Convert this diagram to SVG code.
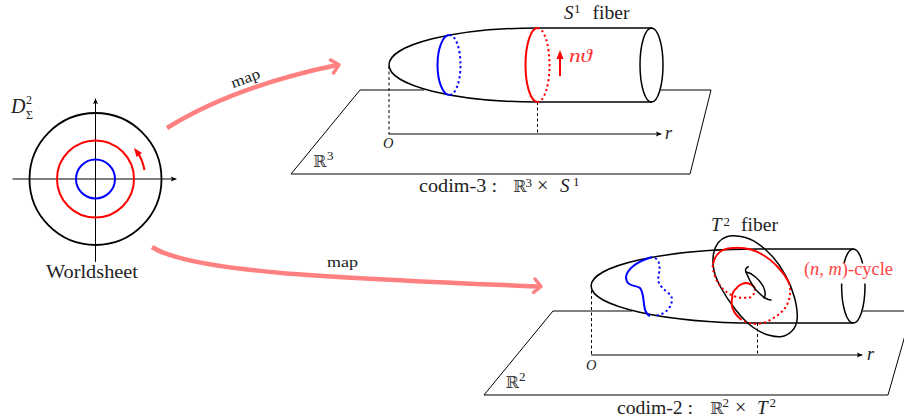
<svg xmlns="http://www.w3.org/2000/svg" width="904" height="418" viewBox="0 0 904 418">
<style>
text{font-family:"Liberation Serif","DejaVu Serif",serif;fill:#222}
.i{font-style:italic}
.l{fill:none;stroke:#000;stroke-linecap:round}
.thin{stroke-width:1}
.m{stroke-width:1.500}
.b{fill:none;stroke:#00f;stroke-width:2}
.r{fill:none;stroke:#f00;stroke-width:2}
.dot{stroke-dasharray:2.2 2.8}
.d{stroke-dasharray:3 2.500;stroke-linecap:butt}
.p{fill:none;stroke:#ff8080;stroke-width:4.500}
.ph{fill:none;stroke:#ff8080;stroke-width:3.500;stroke-linecap:round;stroke-linejoin:round}
.bb{font-family:"DejaVu Serif",serif;fill:#444}
</style>
<defs>
<marker id="ah" markerUnits="userSpaceOnUse" markerWidth="8" markerHeight="8" refX="5" refY="4" orient="auto"><path d="M0 1.500L5.500 4L0 6.500L1 4Z" fill="#000"/></marker>
</defs>
<g id="worldsheet">
<path class="l thin" d="M13 179H176" marker-end="url(#ah)"/>
<path class="l thin" d="M95.500 261.500V99" marker-end="url(#ah)"/>
<circle cx="95.500" cy="179" r="66" fill="none" stroke="#000" stroke-width="1.800"/>
<circle cx="95.500" cy="179" r="38.500" class="r"/>
<circle cx="95.500" cy="179" r="19.500" class="b"/>
<path class="r" d="M144.500 170Q142 158 137 152"/>
<path d="M134 148L142 153L136.500 157Z" fill="#f00"/>
<text x="11" y="113" font-size="20" class="i">D</text>
<text x="26" y="104" font-size="12">2</text>
<text x="26" y="119" font-size="12">Σ</text>
<text x="46" y="278" font-size="19.500" textLength="92" lengthAdjust="spacingAndGlyphs">Worldsheet</text>
</g>
<g id="connectors">
<path class="p" d="M167 128C215 98 275 78 337 65"/>
<path class="ph" d="M330.500 60L339 64.800L333.500 73"/>
<path class="p" d="M152 247C190 272 330 278 539 286.500"/>
<path class="ph" d="M535 279L541 286.500L533.500 292.500"/>
<text x="247" y="83" font-size="15.500" text-anchor="middle" transform="rotate(-20 247 83)" textLength="30" lengthAdjust="spacingAndGlyphs">map</text>
<text x="327" y="266.500" font-size="15.500" textLength="31" lengthAdjust="spacingAndGlyphs">map</text>
</g>
<g id="codim3">
<path class="l thin" d="M661 90H711L690 174H291L360 90H424"/>
<path class="l m" d="M651.500 28H537A148 37 0 0 0 537 102H651.500"/>
<ellipse cx="651.500" cy="65" rx="11.500" ry="37" class="l m" fill="#fff"/>
<path class="l d thin" d="M389 66V134M537.500 102V134"/>
<path class="l thin" d="M389 134H661" marker-end="url(#ah)"/>
<path class="b" d="M449.500 35A12 30 0 0 0 449.500 95"/>
<path class="b dot" d="M449.500 35A11 30 0 0 1 449.500 95"/>
<path class="r" d="M537.500 28A12 37 0 0 0 537.500 102"/>
<path class="r dot" d="M537.500 28A12 37 0 0 1 537.500 102"/>
<path class="r" d="M560 76V56"/>
<path d="M560 50L563.500 59H556.500Z" fill="#f00"/>
<text x="569" y="62" font-size="19" class="i" style="fill:#f33" textLength="23" lengthAdjust="spacingAndGlyphs">nϑ</text>
<text x="564" y="19" font-size="19" class="i">S</text>
<text x="574" y="13" font-size="13">1</text>
<text x="592.500" y="19" font-size="19" textLength="37" lengthAdjust="spacingAndGlyphs">fiber</text>
<text x="665" y="138.500" font-size="18" class="i">r</text>
<text x="383" y="148" font-size="14.500" class="i">O</text>
<text x="313" y="167" font-size="16" class="bb">ℝ</text>
<text x="327" y="160" font-size="13">3</text>
<text x="419" y="192" font-size="19.500" textLength="78" lengthAdjust="spacingAndGlyphs">codim-3 :</text>
<text x="513" y="192" font-size="16" class="bb">ℝ</text>
<text x="525.500" y="186.500" font-size="13">3</text>
<text x="537" y="192" font-size="20">×</text>
<text x="560" y="192" font-size="19" class="i">S</text>
<text x="573" y="186" font-size="13">1</text>
</g>
<g id="codim2">
<path class="l thin" d="M632 311H553L484 395H888L912 311H863"/>
<path class="l m" d="M853 249H757A166 37 0 0 0 757 323H853"/>
<ellipse cx="853.300" cy="286" rx="11.700" ry="37" class="l m" fill="#fff"/>
<path class="l d thin" d="M591.500 285V355M757.500 323V355"/>
<path class="l thin" d="M591.500 355H862" marker-end="url(#ah)"/>
<path class="b" d="M652 257C635 262 627 270 626 277C626 287 636 285 640 288C646 295 641 312 650 316"/>
<path class="b dot" d="M655 258C662 262 659 272 658 280C660 290 673 293 672 300C671 309 665 314 655 316"/>
<path id="torus" class="l m" fill="#fff" d="M740.800 236.600Q750 238.300 757.500 243.300Q765 248.300 772.500 256.600Q780 265 785.800 275.800Q791.700 286.700 794.700 298.300Q797.700 310 797.200 318.300Q796.700 326.700 791.700 331.300Q786.700 336 781.700 336.600Q776.700 337.300 769.200 335.300Q761.700 333.300 753.300 327.500Q745 321.700 735.800 310Q726.700 298.300 720.800 287.500Q715 276.700 713.600 268.300Q712.300 260 713.600 253.300Q715 246.700 718.300 242.500Q721.700 238.300 726.700 236.700Q731.700 235 740.800 236.600Z"/>
<path class="r" d="M713 264C715 254 722 249 730 248.300C745 246.500 755 250 763 255C772 260 784 272 789 283"/>
<path class="r dot" d="M789 283C792 292 789 303 785 308C780 315 768 323 757 324C751 324 746 322 743 320.700"/>
<path class="r dot" d="M712.700 265C713 273 716 279 718 283C722 288 725 291 728 293C732 296 736 297 740 297.700C745 298 750 298 751.700 296.700C754 294 755 292 755 289"/>
<path class="r" d="M755 288C752 284 748 283 745 283C741 284 738 286 736.700 288C733 291 732 294 732.300 297C731 303 731 306 733.300 310C735 314 738 317 741.700 320"/>
<path class="l m" d="M748.300 266.700C745.500 268 745 270 746 272C749 279 752 287 759 293C763 297 767 300 771 300"/>
<path class="l m" d="M746 272C752 273 759 279 763 286C765 290 766 295 764 298"/>
<rect x="803" y="263.500" width="92" height="20" fill="#fff"/>
<text x="804" y="275" font-size="18" style="fill:#f44" textLength="89" lengthAdjust="spacingAndGlyphs">(<tspan class="i" style="fill:#f44">n, m</tspan>)-cycle</text>
<text x="711" y="231" font-size="19" class="i">T</text>
<text x="723.500" y="225.500" font-size="13">2</text>
<text x="741" y="231" font-size="19" textLength="37" lengthAdjust="spacingAndGlyphs">fiber</text>
<text x="867" y="359.500" font-size="18" class="i">r</text>
<text x="586" y="370" font-size="14.500" class="i">O</text>
<text x="505.500" y="388" font-size="16" class="bb">ℝ</text>
<text x="519" y="381" font-size="13">2</text>
<text x="617" y="414" font-size="19.500" textLength="76" lengthAdjust="spacingAndGlyphs">codim-2 :</text>
<text x="710" y="414" font-size="16" class="bb">ℝ</text>
<text x="722.500" y="407" font-size="13">2</text>
<text x="735" y="414" font-size="20">×</text>
<text x="757" y="414" font-size="19" class="i">T</text>
<text x="769.500" y="407" font-size="13">2</text>
</g>
</svg>
